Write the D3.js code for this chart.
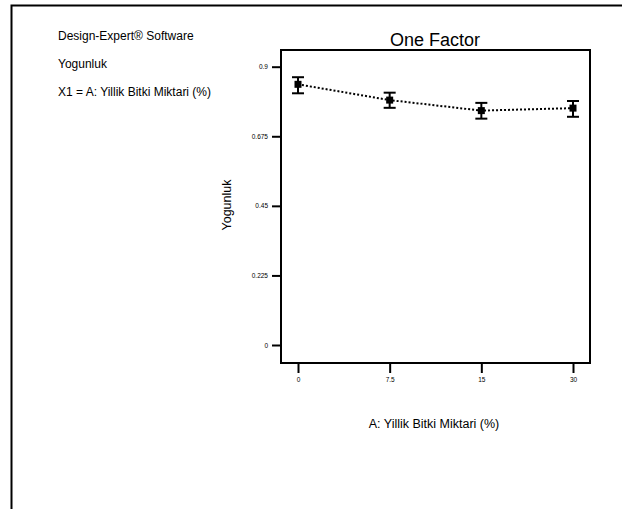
<!DOCTYPE html>
<html>
<head>
<meta charset="utf-8">
<script src="https://cdn.jsdelivr.net/npm/d3@7"></script>
<style>
  body { margin: 0; background: #fff; }
  text { font-family: "Liberation Sans", Arial, sans-serif; fill: #000; }
</style>
</head>
<body>
<div id="chart"></div>
<script>
// data
var levels = ["0", "7.5", "15", "30"];
var means = [0.843, 0.792, 0.758, 0.766];
var lower = [0.814, 0.767, 0.732, 0.738];
var upper = [0.866, 0.816, 0.783, 0.789];
var yTicks = [0, 0.225, 0.45, 0.675, 0.9];
var infoLines = ["Design-Expert\u00ae Software", "Yogunluk", "X1 = A: Yillik Bitki Miktari (%)"];

var svgWidth = 622;
var svgHeight = 509;

// plot frame
var frame = { left: 281, right: 590, top: 50, bottom: 363 };

var svg = d3.select("#chart")
  .append("svg")
  .attr("width", svgWidth)
  .attr("height", svgHeight);

// outer page border (top and left only)
svg.append("path")
  .attr("d", "M11.5," + svgHeight + "V5.5H" + svgWidth)
  .attr("fill", "none")
  .attr("stroke", "#000")
  .attr("stroke-width", 2);

// info text at top left
svg.selectAll(".info").data(infoLines).enter()
  .append("text")
  .attr("class", "info")
  .attr("x", 58)
  .attr("y", (d, i) => 40 + i * 28)
  .attr("font-size", 12)
  .text(d => d);

var xScale = d3.scalePoint()
  .domain(levels)
  .range([298, 573]);

var yScale = d3.scaleLinear()
  .domain([0, 0.9])
  .range([345, 66.7]);

// frame box
svg.append("rect")
  .attr("x", frame.left)
  .attr("y", frame.top)
  .attr("width", frame.right - frame.left)
  .attr("height", frame.bottom - frame.top)
  .attr("fill", "none")
  .attr("stroke", "#000")
  .attr("stroke-width", 2);

// y axis (ticks outside the frame)
var leftAxis = d3.axisLeft(yScale)
  .tickValues(yTicks)
  .tickSize(8)
  .tickPadding(4)
  .tickFormat(d => String(d));

var yAxisG = svg.append("g")
  .attr("transform", `translate(${frame.left - 1}, 0)`)
  .call(leftAxis);
yAxisG.select(".domain").remove();
yAxisG.selectAll("line").attr("stroke-width", 2);
yAxisG.selectAll("text").attr("font-size", 6.5).attr("font-family", "Liberation Sans, Arial, sans-serif");

// x axis
var bottomAxis = d3.axisBottom(xScale)
  .tickSize(9)
  .tickPadding(4);

var xAxisG = svg.append("g")
  .attr("transform", `translate(0, ${frame.bottom + 1})`)
  .call(bottomAxis);
xAxisG.select(".domain").remove();
xAxisG.selectAll("line").attr("stroke-width", 2);
xAxisG.selectAll("text").attr("font-size", 6.5).attr("font-family", "Liberation Sans, Arial, sans-serif");

// title
svg.append("text")
  .attr("x", 435)
  .attr("y", 46)
  .attr("text-anchor", "middle")
  .attr("font-size", 18)
  .text("One Factor");

// axis labels
svg.append("text")
  .attr("transform", "translate(231, 205) rotate(-90)")
  .attr("text-anchor", "middle")
  .attr("font-size", 12.5)
  .text("Yogunluk");

svg.append("text")
  .attr("x", 434)
  .attr("y", 428)
  .attr("text-anchor", "middle")
  .attr("font-size", 12.5)
  .text("A: Yillik Bitki Miktari (%)");

// dotted mean line
var line = d3.line()
  .x((d, i) => xScale(levels[i]))
  .y(d => yScale(d));

svg.append("path")
  .datum(means)
  .attr("d", line)
  .attr("fill", "none")
  .attr("stroke", "#000")
  .attr("stroke-width", 2)
  .attr("stroke-dasharray", "2,2");

// error bars
var bars = svg.selectAll(".err").data(levels).enter()
  .append("g")
  .attr("class", "err");

bars.append("line")
  .attr("x1", d => xScale(d))
  .attr("x2", d => xScale(d))
  .attr("y1", (d, i) => yScale(upper[i]))
  .attr("y2", (d, i) => yScale(lower[i]))
  .attr("stroke", "#000")
  .attr("stroke-width", 2);

bars.append("line")
  .attr("x1", d => xScale(d) - 6)
  .attr("x2", d => xScale(d) + 6)
  .attr("y1", (d, i) => yScale(upper[i]))
  .attr("y2", (d, i) => yScale(upper[i]))
  .attr("stroke", "#000")
  .attr("stroke-width", 2);

bars.append("line")
  .attr("x1", d => xScale(d) - 6)
  .attr("x2", d => xScale(d) + 6)
  .attr("y1", (d, i) => yScale(lower[i]))
  .attr("y2", (d, i) => yScale(lower[i]))
  .attr("stroke", "#000")
  .attr("stroke-width", 2);

// square markers
bars.append("rect")
  .attr("x", d => xScale(d) - 3.5)
  .attr("y", (d, i) => yScale(means[i]) - 3.5)
  .attr("width", 7)
  .attr("height", 7)
  .attr("fill", "#000");
</script>
</body>
</html>
